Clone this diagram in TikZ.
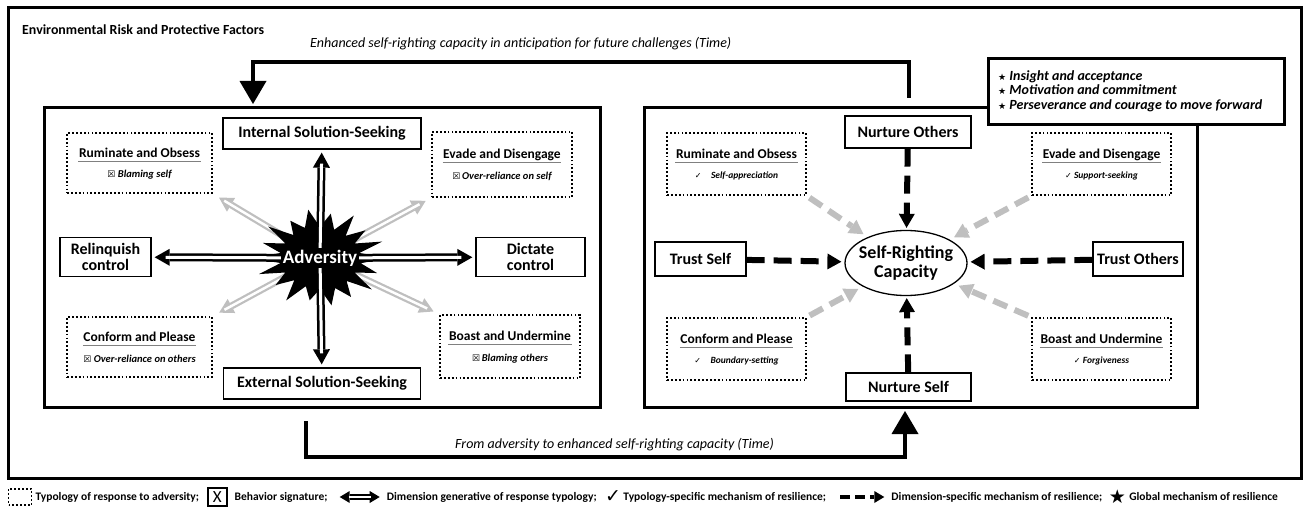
\documentclass[tikz,border=0pt]{standalone}
\usepackage{fontspec}
\setmainfont{Carlito}
\newfontfamily\symf{DejaVu Sans}
\usetikzlibrary{shapes.symbols,shapes.geometric,arrows.meta,backgrounds,calc}
\definecolor{lgray}{RGB}{191,191,191}
\definecolor{ulgray}{RGB}{128,128,128}
\tikzset{
  thickframe/.style={draw=black, line width=3pt, inner sep=0pt},
  sbox/.style={draw=black, line width=1.3pt, fill=white, font=\bfseries\fontsize{16}{16.5}\selectfont, align=center, inner sep=0pt},
  dbox/.style={draw=black, line width=2pt, dash pattern=on 1.8pt off 2.1pt, inner sep=0pt},
  dtitle/.style={font=\bfseries\fontsize{13.5}{14}\selectfont, inner sep=0.5pt, text height=9.5pt, text depth=3.2pt},
  dsubL/.style={font=\bfseries\itshape\fontsize{10.5}{12}\selectfont, inner sep=1pt},
  dsubR/.style={font=\bfseries\itshape\fontsize{9.5}{11}\selectfont, inner sep=1pt},
  ulline/.style={draw=ulgray, line width=0.9pt},
  dblarrow/.style={line width=8pt, draw=#1, -{Triangle[length=15pt,width=17pt,line width=0pt]}, postaction={draw=white, line width=3pt, -, shorten >=14pt}},
  gdblarrow/.style={line width=7pt, draw=lgray, -{Triangle[length=14pt,width=16pt,line width=0pt]}, postaction={draw=white, line width=2.5pt, -, shorten >=13pt}},
  bigarrow/.style={line width=4.5pt, -{Triangle[length=23pt,width=27pt,line width=0pt]}},
  bdash/.style={line width=6pt, dash pattern=on 18pt off 9pt, -{Triangle[length=14pt,width=16pt,line width=0pt]}},
  gdash/.style={line width=6pt, draw=lgray, dash pattern=on 15pt off 8pt, -{Triangle[length=14pt,width=16pt,line width=0pt]}},
  legtxt/.style={font=\bfseries\fontsize{11.5}{12}\selectfont, anchor=west, inner sep=0pt},
  legdbl/.style={line width=6pt, {Triangle[length=10pt,width=12pt,line width=0pt]}-{Triangle[length=10pt,width=12pt,line width=0pt]}, postaction={draw=white, line width=2pt, -, shorten >=9pt, shorten <=9pt}},
  legdash/.style={line width=4.5pt, dash pattern=on 10pt off 5pt, -{Triangle[length=10pt,width=12pt,line width=0pt]}},
}
\newcommand{\typbox}[7]{%
  \node[dbox, minimum width=#3pt, minimum height=#4pt] (#1) at (#2) {};
  \node[dtitle] (#1-t) at ($(#1.center)+(0,-9)$) {#5};
  \draw[ulline] (#1-t.south west) -- (#1-t.south east);
  \node[#7] (#1-s) at ($(#1.center)+(0,12)$) {#6};
}
\begin{document}
\begin{tikzpicture}[x=1pt,y=-1pt]
\useasboundingbox (0,0) rectangle (1314,513);
% frames
\node[thickframe, minimum width=1293pt, minimum height=470pt] (env) at (654.5,243) {};
\node[anchor=base west, inner sep=0pt, font=\bfseries\fontsize{13.9}{14}\selectfont] (title) at (22,35) {Environmental Risk and Protective Factors};
\node[thickframe, minimum width=556pt, minimum height=299pt] (lb) at (322,257.5) {};
\node[thickframe, minimum width=553pt, minimum height=299pt] (rb) at (920.5,257.5) {};

% time arrows
\coordinate (ta) at (909,98);
\coordinate (tc) at (253,62);
\coordinate (tx) at (253,104);
\draw[bigarrow] (ta) |- (tc) -- (tx);
\node[anchor=base west, inner sep=0pt, font=\itshape\fontsize{14}{15}\selectfont] (ttext) at (310,48) {Enhanced self-righting capacity in anticipation for future challenges (Time)};
\coordinate (ba) at (306,421);
\coordinate (bc) at (905,457);
\coordinate (bt) at (905,411);
\draw[bigarrow] (ba) |- (bc) -- (bt);
\node[anchor=base west, inner sep=0pt, font=\itshape\fontsize{14}{15}\selectfont] (btext) at (455,448) {From adversity to enhanced self-righting capacity (Time)};

% ---------- left panel ----------
\node[sbox, minimum width=198pt, minimum height=31pt] (isk) at (322,133.5) {Internal Solution-Seeking};
\node[sbox, minimum width=197pt, minimum height=31pt] (esk) at (322,383.5) {External Solution-Seeking};
\node[sbox, minimum width=91pt, minimum height=39pt] (rel) at (105.5,257) {Relinquish\\control};
\node[sbox, minimum width=109pt, minimum height=39pt] (dic) at (530.5,257) {Dictate\\control};

\typbox{rum}{139.5,163}{145}{60}{Ruminate and Obsess}{{\symf\fontsize{9}{9}\selectfont ☒}\ \textit{Blaming self}}{dsubL}
\typbox{eva}{502,164.5}{140}{65}{Evade and Disengage}{{\symf\fontsize{9}{9}\selectfont ☒}\,\textit{Over-reliance on self}}{dsubL}
\typbox{con}{139.5,347}{145}{60}{Conform and Please}{{\symf\fontsize{9}{9}\selectfont ☒}\ \textit{Over-reliance on others}}{dsubL}
\typbox{boa}{510,346.5}{140}{63}{Boast and Undermine}{{\symf\fontsize{9}{9}\selectfont ☒}\,\textit{Blaming others}}{dsubL}

% adversity starburst
\node[circle, inner sep=0pt, minimum size=1pt] (adv) at (320,258) {};
\fill[black, shift={(adv.center)}, xscale=1.38]
  (0:50) -- (10:30) -- (20:44) -- (30:29) -- (40:49) -- (50:30) -- (60:45) -- (70:32) -- (80:48) -- (90:31)
  -- (100:43) -- (110:30) -- (120:49) -- (130:29) -- (140:42) -- (150:29) -- (160:47) -- (170:29) -- (180:51)
  -- (190:29) -- (200:44) -- (210:29) -- (220:49) -- (230:30) -- (240:43) -- (250:32) -- (260:49) -- (270:31)
  -- (280:45) -- (290:30) -- (300:49) -- (310:29) -- (320:43) -- (330:29) -- (340:48) -- (350:29) -- cycle;
\begin{pgfonlayer}{background}
\draw[gdblarrow, shorten >=7pt] (adv.center) -- (rum.south east);
\draw[gdblarrow, shorten >=6pt] (adv.center) -- (eva.south west);
\draw[gdblarrow, shorten >=7pt] (adv.center) -- (con.north east);
\draw[gdblarrow, shorten >=6pt] (adv.center) -- (boa.north west);
\end{pgfonlayer}
\draw[dblarrow=black, shorten >=3pt] (adv.center) -- (isk);
\draw[dblarrow=black, shorten >=3pt] (adv.center) -- (esk);
\draw[dblarrow=black, shorten >=3pt] (adv.center) -- (rel);
\draw[dblarrow=black, shorten >=3pt] (adv.center) -- (dic);
\node[fill=black, text=white, font=\bfseries\fontsize{19}{19}\selectfont, inner sep=1.5pt] (advt) at (adv.center) {Adversity};

% ---------- right panel ----------
\node[ellipse, draw=black, line width=1.3pt, fill=white, minimum width=122pt, minimum height=65pt, inner sep=0pt] (sr) at (906,263) {};
\node[align=center, inner sep=0pt, font=\bfseries\fontsize{18}{18.5}\selectfont] (srt) at (sr.center) {Self-Righting\\Capacity};
\node[sbox, minimum width=126pt, minimum height=32pt] (no) at (908,132) {Nurture Others};
\node[sbox, minimum width=125pt, minimum height=28pt] (ns) at (908.5,387) {Nurture Self};
\node[sbox, minimum width=91pt, minimum height=34pt] (ts) at (700.5,259) {Trust Self};
\node[sbox, minimum width=90pt, minimum height=34pt] (to) at (1138,259) {Trust Others};

\typbox{rrum}{736.5,164}{139}{62}{Ruminate and Obsess}{{\symf\fontsize{8}{8}\selectfont ✓}\quad\textit{Self-appreciation}}{dsubR}
\typbox{reva}{1101.5,164}{139}{62}{Evade and Disengage}{{\symf\fontsize{8}{8}\selectfont ✓}\ \textit{Support-seeking}}{dsubR}
\typbox{rcon}{736.5,349}{139}{62}{Conform and Please}{{\symf\fontsize{8}{8}\selectfont ✓}\quad\textit{Boundary-setting}}{dsubR}
\typbox{rboa}{1101.5,349}{139}{62}{Boast and Undermine}{{\symf\fontsize{8}{8}\selectfont ✓}\ \textit{Forgiveness}}{dsubR}

\draw[bdash, shorten >=2pt] (no) -- (sr);
\draw[bdash, shorten >=2pt] (ns) -- (sr);
\draw[bdash, shorten >=3pt] (ts) -- (sr);
\draw[bdash, shorten >=3pt] (to) -- (sr);
\draw[gdash, shorten <=3pt, shorten >=5pt] (rrum.south east) -- (sr);
\draw[gdash, shorten <=3pt, shorten >=5pt] (reva.south west) -- (sr);
\draw[gdash, shorten <=3pt, shorten >=5pt] (rcon.north east) -- (sr);
\draw[gdash, shorten <=3pt, shorten >=5pt] (rboa.north west) -- (sr);

% global mechanisms
\node[thickframe, fill=white, minimum width=296pt, minimum height=66pt] (gb) at (1136,92) {};
\node[anchor=west, align=left, inner sep=0pt, font=\bfseries\itshape\fontsize{14}{14.6}\selectfont] (gbt) at (998,91) {{\upshape\symf\fontsize{9}{9}\selectfont ★}\ Insight and acceptance\\{\upshape\symf\fontsize{9}{9}\selectfont ★}\ Motivation and commitment\\{\upshape\symf\fontsize{9}{9}\selectfont ★}\ Perseverance and courage to move forward};

% ---------- legend ----------
\node[dbox, line width=1.7pt, minimum width=23pt, minimum height=16pt] (k1) at (20,497) {};
\node[legtxt] (k1t) at ($(k1.east)+(3,0)$) {Typology of response to adversity;};
\node[draw, line width=1.3pt, minimum width=19pt, minimum height=18pt, inner sep=0pt, anchor=west, font=\fontsize{17}{17}\selectfont] (k2) at ($(k1t.east)+(8,0)$) {X};
\node[legtxt] (k2t) at ($(k2.east)+(7,0)$) {Behavior signature;};
\coordinate (k3a) at ($(k2t.east)+(12,0)$);
\coordinate (k3b) at ($(k3a)+(40,0)$);
\draw[legdbl] (k3a) -- (k3b);
\node[legtxt] (k3t) at ($(k3b)+(7,0)$) {Dimension generative of response typology;};
\node[anchor=west, inner sep=0pt, font=\symf\fontsize{19}{19}\selectfont] (k4) at ($(k3t.east)+(8,0)$) {✓};
\node[legtxt] (k4t) at ($(k4.east)+(2,0)$) {Typology-specific mechanism of resilience;};
\coordinate (k5a) at ($(k4t.east)+(14,0)$);
\coordinate (k5b) at ($(k5a)+(44,0)$);
\draw[legdash] (k5a) -- (k5b);
\node[legtxt] (k5t) at ($(k5b)+(7,0)$) {Dimension-specific mechanism of resilience;};
\node[anchor=west, inner sep=0pt, font=\symf\fontsize{19}{19}\selectfont] (k6) at ($(k5t.east)+(6,0)$) {★};
\node[legtxt] (k6t) at ($(k6.east)+(3,0)$) {Global mechanism of resilience};
\end{tikzpicture}
\end{document}
